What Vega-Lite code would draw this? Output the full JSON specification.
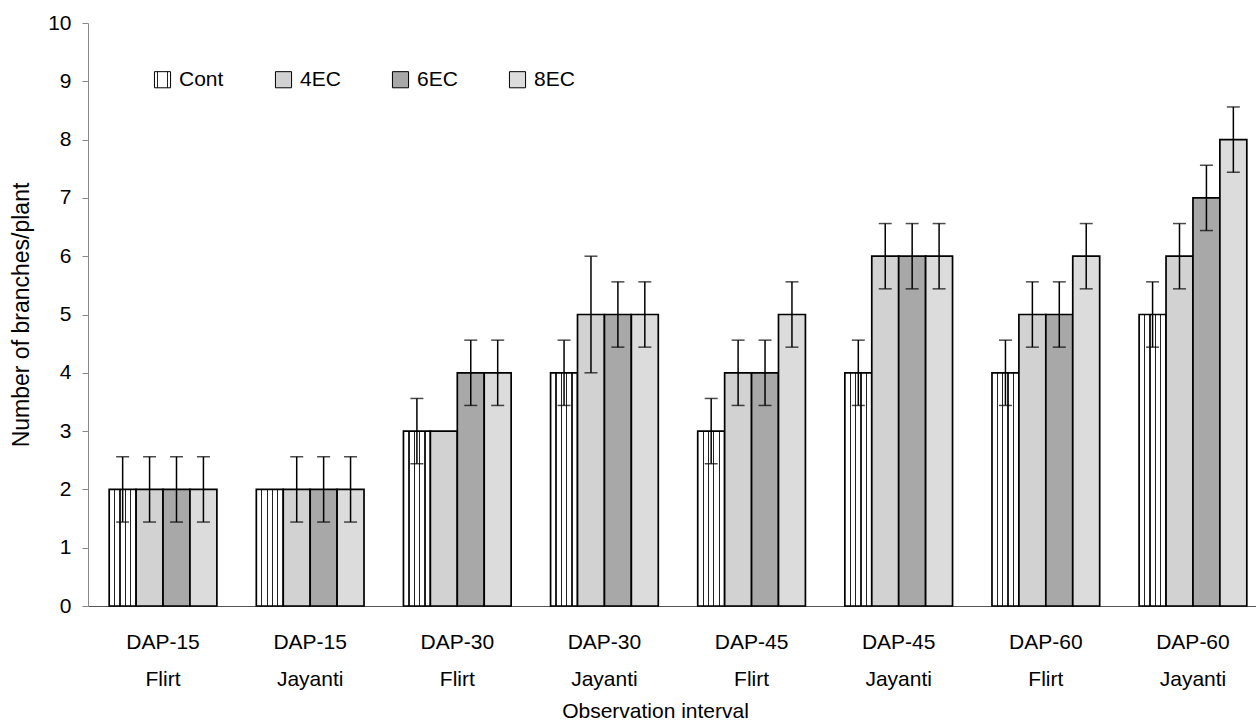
{
  "$schema": "https://vega.github.io/schema/vega-lite/v6.json",
  "width": 1168,
  "height": 583,
  "autosize": {"type": "none"},
  "padding": {"left": 88, "top": 23, "right": 0, "bottom": 121},
  "background": "white",
  "config": {"font": "Liberation Sans", "view": {"stroke": null}},
  "data": {
    "values": [
      {"interval": "DAP-15 Flirt", "trt": "Cont", "v": 2, "lo": 1.44, "hi": 2.56},
      {"interval": "DAP-15 Flirt", "trt": "4EC", "v": 2, "lo": 1.44, "hi": 2.56},
      {"interval": "DAP-15 Flirt", "trt": "6EC", "v": 2, "lo": 1.44, "hi": 2.56},
      {"interval": "DAP-15 Flirt", "trt": "8EC", "v": 2, "lo": 1.44, "hi": 2.56},
      {"interval": "DAP-15 Jayanti", "trt": "Cont", "v": 2, "lo": null, "hi": null},
      {"interval": "DAP-15 Jayanti", "trt": "4EC", "v": 2, "lo": 1.44, "hi": 2.56},
      {"interval": "DAP-15 Jayanti", "trt": "6EC", "v": 2, "lo": 1.44, "hi": 2.56},
      {"interval": "DAP-15 Jayanti", "trt": "8EC", "v": 2, "lo": 1.44, "hi": 2.56},
      {"interval": "DAP-30 Flirt", "trt": "Cont", "v": 3, "lo": 2.44, "hi": 3.56},
      {"interval": "DAP-30 Flirt", "trt": "4EC", "v": 3, "lo": null, "hi": null},
      {"interval": "DAP-30 Flirt", "trt": "6EC", "v": 4, "lo": 3.44, "hi": 4.56},
      {"interval": "DAP-30 Flirt", "trt": "8EC", "v": 4, "lo": 3.44, "hi": 4.56},
      {"interval": "DAP-30 Jayanti", "trt": "Cont", "v": 4, "lo": 3.44, "hi": 4.56},
      {"interval": "DAP-30 Jayanti", "trt": "4EC", "v": 5, "lo": 4.0, "hi": 6.0},
      {"interval": "DAP-30 Jayanti", "trt": "6EC", "v": 5, "lo": 4.44, "hi": 5.56},
      {"interval": "DAP-30 Jayanti", "trt": "8EC", "v": 5, "lo": 4.44, "hi": 5.56},
      {"interval": "DAP-45 Flirt", "trt": "Cont", "v": 3, "lo": 2.44, "hi": 3.56},
      {"interval": "DAP-45 Flirt", "trt": "4EC", "v": 4, "lo": 3.44, "hi": 4.56},
      {"interval": "DAP-45 Flirt", "trt": "6EC", "v": 4, "lo": 3.44, "hi": 4.56},
      {"interval": "DAP-45 Flirt", "trt": "8EC", "v": 5, "lo": 4.44, "hi": 5.56},
      {"interval": "DAP-45 Jayanti", "trt": "Cont", "v": 4, "lo": 3.44, "hi": 4.56},
      {"interval": "DAP-45 Jayanti", "trt": "4EC", "v": 6, "lo": 5.44, "hi": 6.56},
      {"interval": "DAP-45 Jayanti", "trt": "6EC", "v": 6, "lo": 5.44, "hi": 6.56},
      {"interval": "DAP-45 Jayanti", "trt": "8EC", "v": 6, "lo": 5.44, "hi": 6.56},
      {"interval": "DAP-60 Flirt", "trt": "Cont", "v": 4, "lo": 3.44, "hi": 4.56},
      {"interval": "DAP-60 Flirt", "trt": "4EC", "v": 5, "lo": 4.44, "hi": 5.56},
      {"interval": "DAP-60 Flirt", "trt": "6EC", "v": 5, "lo": 4.44, "hi": 5.56},
      {"interval": "DAP-60 Flirt", "trt": "8EC", "v": 6, "lo": 5.44, "hi": 6.56},
      {"interval": "DAP-60 Jayanti", "trt": "Cont", "v": 5, "lo": 4.44, "hi": 5.56},
      {"interval": "DAP-60 Jayanti", "trt": "4EC", "v": 6, "lo": 5.44, "hi": 6.56},
      {"interval": "DAP-60 Jayanti", "trt": "6EC", "v": 7, "lo": 6.44, "hi": 7.56},
      {"interval": "DAP-60 Jayanti", "trt": "8EC", "v": 8, "lo": 7.44, "hi": 8.56}
    ]
  },
  "encoding": {
    "x": {
      "field": "interval",
      "type": "nominal",
      "sort": null,
      "scale": {"range": [0, 1180], "paddingInner": 0.268, "paddingOuter": 0.144},
      "axis": {
        "title": "Observation interval",
        "titleFontSize": 21,
        "titleFontWeight": "normal",
        "titleColor": "black",
        "titlePadding": 11,
        "titleX": 567,
        "titleAlign": "center",
        "labelExpr": "split(datum.label, ' ')",
        "labelFontSize": 21,
        "labelColor": "black",
        "labelLineHeight": 37,
        "labelPadding": 25,
        "labelAngle": 0,
        "ticks": false,
        "domainColor": "#555555",
        "domainWidth": 1
      }
    },
    "xOffset": {
      "field": "trt",
      "type": "nominal",
      "sort": ["Cont", "4EC", "6EC", "8EC"],
      "scale": {"paddingInner": 0, "paddingOuter": 0}
    }
  },
  "layer": [
    {
      "mark": {"type": "bar", "stroke": "black", "strokeWidth": 1.7},
      "encoding": {
        "y": {
          "field": "v",
          "type": "quantitative",
          "scale": {"domain": [0, 10], "nice": false},
          "axis": {
            "title": "Number of branches/plant",
            "titleFontSize": 23,
            "titleFontWeight": "normal",
            "titleColor": "black",
            "titlePadding": 14,
            "format": "d",
            "labelFontSize": 21,
            "labelColor": "black",
            "labelPadding": 11,
            "tickSize": 6,
            "values": [0, 1, 2, 3, 4, 5, 6, 7, 8, 9, 10],
            "grid": false,
            "domainColor": "#888888",
            "tickColor": "#888888"
          }
        },
        "fill": {
          "field": "trt",
          "type": "nominal",
          "sort": ["Cont", "4EC", "6EC", "8EC"],
          "scale": {
            "domain": ["Cont", "4EC", "6EC", "8EC"],
            "range": [
              {"expr": "{gradient: 'linear', x1: 0, y1: 0, x2: 1, y2: 0, stops: [{offset: 0, color: 'white'}, {offset: 0.18, color: 'white'}, {offset: 0.18, color: '#222222'}, {offset: 0.225, color: '#222222'}, {offset: 0.225, color: 'white'}, {offset: 0.38, color: 'white'}, {offset: 0.38, color: '#222222'}, {offset: 0.425, color: '#222222'}, {offset: 0.425, color: 'white'}, {offset: 0.575, color: 'white'}, {offset: 0.575, color: '#222222'}, {offset: 0.62, color: '#222222'}, {offset: 0.62, color: 'white'}, {offset: 0.775, color: 'white'}, {offset: 0.775, color: '#222222'}, {offset: 0.82, color: '#222222'}, {offset: 0.82, color: 'white'}, {offset: 1, color: 'white'}]}"},
              "#d2d2d2",
              "#a8a8a8",
              "#dcdcdc"
            ]
          },
          "legend": {
            "orient": "none",
            "legendX": 64,
            "legendY": 46,
            "direction": "horizontal",
            "title": null,
            "symbolType": "square",
            "symbolSize": 260,
            "symbolStrokeColor": "black",
            "symbolStrokeWidth": 1,
            "labelFontSize": 21,
            "labelColor": "black",
            "labelOffset": 6,
            "columnPadding": 49,
            "encode": {
              "symbols": {
                "update": {
                  "stroke": {"value": "black"},
                  "strokeWidth": {"value": 1},
                  "size": {"value": 260}
                }
              }
            }
          }
        }
      }
    },
    {
      "transform": [{"filter": "isValid(datum.lo)"}],
      "mark": {"type": "rule", "color": "black", "strokeWidth": 1.5},
      "encoding": {
        "y": {"field": "lo", "type": "quantitative"},
        "y2": {"field": "hi"}
      }
    },
    {
      "transform": [{"filter": "isValid(datum.lo)"}],
      "mark": {"type": "tick", "color": "black", "thickness": 1.5, "size": 13, "orient": "horizontal"},
      "encoding": {"y": {"field": "lo", "type": "quantitative"}}
    },
    {
      "transform": [{"filter": "isValid(datum.hi)"}],
      "mark": {"type": "tick", "color": "black", "thickness": 1.5, "size": 13, "orient": "horizontal"},
      "encoding": {"y": {"field": "hi", "type": "quantitative"}}
    }
  ]
}
